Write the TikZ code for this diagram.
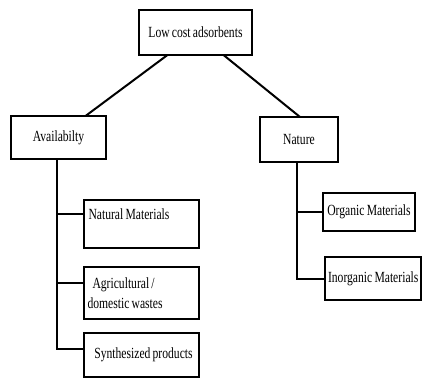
\documentclass[tikz,border=0pt]{standalone}
\usepackage{fontspec}
\setmainfont{Liberation Serif}[FakeStretch=0.75, WordSpace=0.75]
\usetikzlibrary{positioning}

\begin{document}
\begin{tikzpicture}[
				line width=2pt,
				node distance=8mm,
				box/.style={draw, line width=2pt, inner sep=3pt, outer sep=0pt, font=\fontsize{15.5}{20}\selectfont},
				link/.style={line width=2pt},
			]
				\useasboundingbox (0,0) rectangle (422pt,-379pt);

				\node (root) [box, minimum width=113pt, minimum height=45pt] at (195.5pt,-32.5pt) {Low cost adsorbents};
				\node (avail) [box, minimum width=95pt, minimum height=43pt, below left=61pt and 33pt of root.south west] {Availabilty};
				\node (nature) [box, minimum width=78pt, minimum height=45pt, below right=62pt and 8pt of root.south east] {Nature};

				\node (natural) [box, minimum width=115pt, minimum height=48pt, text width=106pt, align=flush left, text height=11pt, text depth=21pt, below right=41pt and 73pt of avail.south west] {Natural Materials};
				\node (agri) [box, minimum width=115pt, minimum height=52pt, text width=108pt, align=flush left, below=19pt of natural] {\hspace{5pt}Agricultural /\\domestic wastes};
				\node (synth) [box, minimum width=115pt, minimum height=44pt, below=14pt of agri] {\hspace{4pt}Synthesized products};

				\node (organic) [box, minimum width=92pt, minimum height=38pt, below right=31pt and 63pt of nature.south west] {Organic Materials};
				\node (inorg) [box, minimum width=96pt, minimum height=43pt, below right=26pt and 2pt of organic.south west] {Inorganic Materials};

				\draw[link] ([xshift=-28pt]root.south) -- ([xshift=27pt]avail.north);
				\draw[link] ([xshift=28pt]root.south) -- ([xshift=1pt]nature.north);

				\draw[link] ([xshift=-2pt]avail.south) |- ([yshift=10pt]natural.west);
				\draw[link] ([xshift=-2pt]avail.south) |- ([yshift=10pt]agri.west);
				\draw[link] ([xshift=-2pt]avail.south) |- ([yshift=6pt]synth.west);

				\draw[link] ([xshift=-2pt]nature.south) |- (organic.west);
				\draw[link] ([xshift=-2pt]nature.south) |- (inorg.west);
			\end{tikzpicture}
\end{document}
